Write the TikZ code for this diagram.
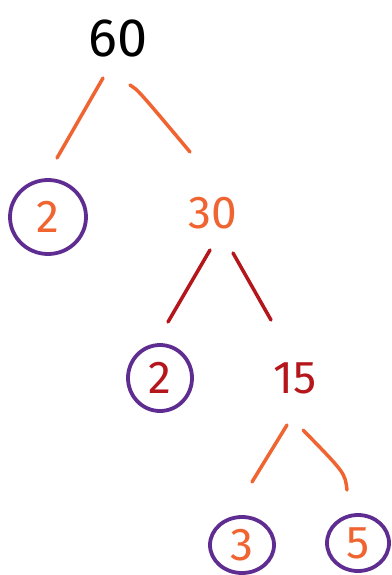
\documentclass[tikz,border=0pt]{standalone}
\usepackage{tikz}
\usetikzlibrary{shapes.geometric,calc}
\usepackage{fontspec}
\setmainfont{Fira Sans}
\usepackage{xcolor}
\definecolor{fcorange}{RGB}{240,100,50}
\definecolor{fcred}{RGB}{180,22,28}
\definecolor{fcpurple}{RGB}{95,45,145}

\begin{document}
\begin{tikzpicture}[x=1pt, y=-1pt,
    every node/.style={font=\fontsize{46}{50}\selectfont, inner sep=0pt},
    prime/.style={draw=fcpurple, line width=3.8pt, ellipse},
    branch/.style={line width=3.5pt, line cap=round}]
  \useasboundingbox (0,0) rectangle (391,575);
  \node[text=black, font=\fontsize{54}{58}\selectfont] (n60) at (118,38) {60};
  \node[prime, text=fcorange, minimum width=76pt, minimum height=74pt] (f2a) at (48,217) {2};
  \node[text=fcorange] (n30) at (213,213) {30};
  \node[prime, text=fcred, minimum width=64pt, minimum height=66pt] (f2b) at (160,378) {2};
  \node[text=fcred] (n15) at (295,378) {15};
  \node[prime, text=fcorange, minimum width=64pt, minimum height=56pt] (f3) at (242,545) {3};
  \node[prime, text=fcorange, minimum width=62pt, minimum height=56pt] (f5) at (358,543) {5};
  % branches of 60
  \draw[branch, fcorange] ($(n60)+(-15,40)$) -- ($(f2a)+(9,-59)$);
  \draw[branch, fcorange] ($(n60)+(12,47)$) .. controls ($(n60)+(20,52)$) .. ($(n30)+(-23,-61)$);
  % branches of 30
  \draw[branch, fcred] ($(n30)+(-3,37)$) -- ($(f2b)+(8,-56)$);
  \draw[branch, fcred] ($(n30)+(20,40)$) -- ($(n15)+(-24,-58)$);
  % branches of 15
  \draw[branch, fcorange] ($(n15)+(-8,47)$) -- ($(f3)+(10,-63)$);
  \draw[branch, fcorange] ($(n15)+(8,52)$) .. controls ($(f5)+(-13,-70)$) .. ($(f5)+(-11,-53)$);
\end{tikzpicture}
\end{document}
